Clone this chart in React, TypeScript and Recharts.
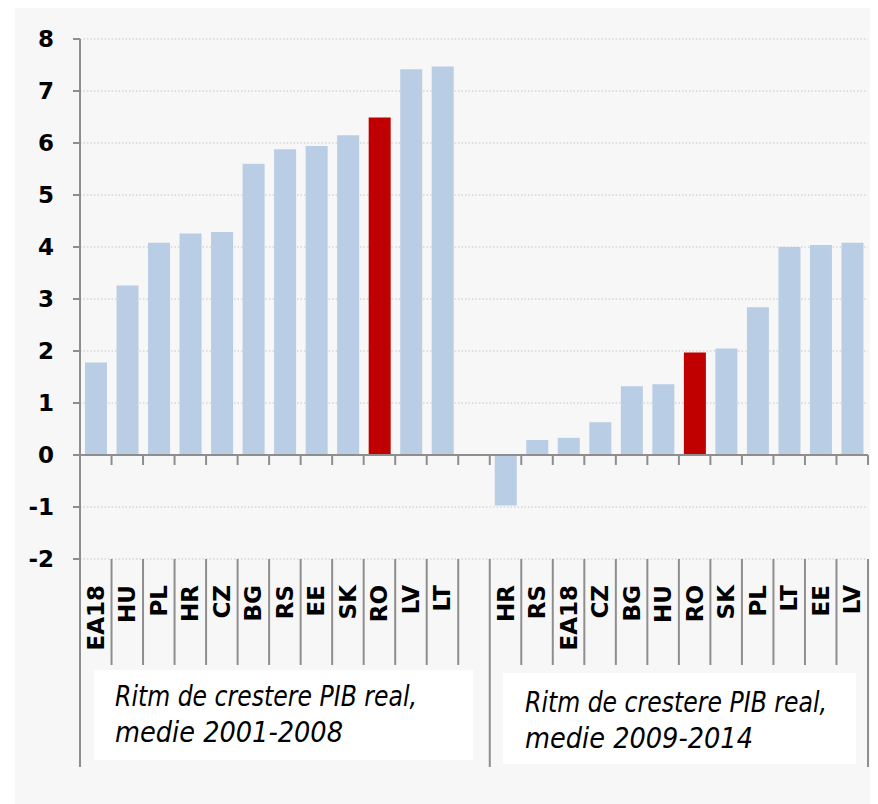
import React from "react";
import {
  Bar,
  BarChart,
  CartesianGrid,
  Cell,
  ReferenceLine,
  XAxis,
  YAxis,
} from "recharts";

// average real GDP growth, % per year
const countries2001 = ["EA18", "HU", "PL", "HR", "CZ", "BG", "RS", "EE", "SK", "RO", "LV", "LT"];
const growth2001 = [1.78, 3.26, 4.08, 4.26, 4.29, 5.6, 5.88, 5.94, 6.15, 6.49, 7.42, 7.47];

const countries2009 = ["HR", "RS", "EA18", "CZ", "BG", "HU", "RO", "SK", "PL", "LT", "EE", "LV"];
const growth2009 = [-0.97, 0.29, 0.33, 0.63, 1.32, 1.36, 1.97, 2.05, 2.84, 4.0, 4.04, 4.08];

const yTicks = [-2, -1, 0, 1, 2, 3, 4, 5, 6, 7, 8];

const periodNotes = [
  ["Ritm de crestere PIB real,", "medie 2001-2008"],
  ["Ritm de crestere PIB real,", "medie 2009-2014"],
];

const highlighted = "RO";

const BLUE = "#b9cde4";
const RED = "#c00000";
const AXIS = "#8e8e8e";
const LABEL_FONT = "'DejaVu Sans', Verdana, sans-serif";
const NOTE_FONT = "'Liberation Sans Narrow', 'DejaVu Sans Condensed', sans-serif";

const W = 863;
const H = 796;

type Row = { key: string; label: string; value: number | null };

// one empty slot keeps the two periods apart
const rows: Row[] = [
  ...countries2001.map((c, i) => ({ key: `a-${c}`, label: c, value: growth2001[i] })),
  { key: "gap", label: "", value: null },
  ...countries2009.map((c, i) => ({ key: `b-${c}`, label: c, value: growth2009[i] })),
];
const groupStarts = [0, countries2001.length + 1];

const CategoryTick = (props: any) => {
  const { x, y, payload, width, visibleTicksCount } = props;
  const idx = rows.findIndex((r) => r.key === payload.value);
  const row = rows[idx];
  const band =
    typeof width === "number" && visibleTicksCount ? width / visibleTicksCount : 788 / rows.length;
  const left = x - band / 2;
  const longLine = groupStarts.includes(idx);
  const last = idx === rows.length - 1;
  return (
    <g>
      <line x1={left} x2={left} y1={y} y2={y + (longLine ? 208 : 106)} stroke={AXIS} strokeWidth={2} />
      {last && (
        <line x1={left + band} x2={left + band} y1={y} y2={y + 208} stroke={AXIS} strokeWidth={2} />
      )}
      {row && row.label && (
        <text
          x={x}
          y={y + 26}
          transform={`rotate(-90 ${x} ${y + 26})`}
          textAnchor="end"
          dominantBaseline="central"
          fontFamily={LABEL_FONT}
          fontWeight="bold"
          fontSize={23}
          fill="#000"
        >
          {row.label}
        </text>
      )}
    </g>
  );
};

// solid zero line with tick marks at the category boundaries
const ZeroAxis = (props: any) => {
  const { x1, x2, y1 } = props;
  const step = (x2 - x1) / rows.length;
  return (
    <g>
      <line x1={x1} x2={x2} y1={y1} y2={y1} stroke={AXIS} strokeWidth={2} />
      {rows.map((r, i) => (
        <line
          key={r.key}
          x1={x1 + step * (i + 1)}
          x2={x1 + step * (i + 1)}
          y1={y1}
          y2={y1 + 10}
          stroke={AXIS}
          strokeWidth={2}
        />
      ))}
    </g>
  );
};

const noteBoxes = [
  { left: 79, top: 662, width: 379, height: 90, tx: 21, ty: 36 },
  { left: 488, top: 665, width: 353, height: 91, tx: 22, ty: 39 },
];

export default function App() {
  return (
    <div style={{ marginLeft: 7, width: W, height: H, background: "#f7f7f7", position: "relative" }}>
      <BarChart
        width={W}
        height={H}
        data={rows}
        margin={{ top: 31, right: 10, left: 0, bottom: 0 }}
      >
        <CartesianGrid vertical={false} stroke="#c6c6c6" strokeDasharray="1.5 2" />
        <XAxis
          dataKey="key"
          interval={0}
          height={245}
          axisLine={false}
          tickLine={false}
          tickSize={0}
          tickMargin={0}
          tick={<CategoryTick />}
        />
        <YAxis
          domain={[-2, 8]}
          ticks={yTicks}
          interval={0}
          width={65}
          tickSize={7}
          tickMargin={19}
          axisLine={{ stroke: AXIS, strokeWidth: 2 }}
          tickLine={{ stroke: AXIS, strokeWidth: 2 }}
          tick={{ fontFamily: LABEL_FONT, fontWeight: "bold", fontSize: 23, fill: "#000" }}
        />
        <Bar dataKey="value" barSize={22} isAnimationActive={false}>
          {rows.map((r) => (
            <Cell key={r.key} fill={r.label === highlighted ? RED : BLUE} />
          ))}
        </Bar>
        <ReferenceLine y={0} shape={<ZeroAxis />} />
      </BarChart>
      <svg
        width={W}
        height={H}
        style={{ position: "absolute", left: 0, top: 0, pointerEvents: "none" }}
      >
        {noteBoxes.map((b, i) => (
          <g key={i}>
            <rect x={b.left} y={b.top} width={b.width} height={b.height} fill="#fff" />
            <text
              fontFamily={NOTE_FONT}
              fontStyle="italic"
              fontSize={29}
              fill="#000"
            >
              <tspan x={b.left + b.tx} y={b.top + b.ty} textLength={302} lengthAdjust="spacingAndGlyphs">
                {periodNotes[i][0]}
              </tspan>
              <tspan x={b.left + b.tx} y={b.top + b.ty + 36} textLength={228} lengthAdjust="spacingAndGlyphs">
                {periodNotes[i][1]}
              </tspan>
            </text>
          </g>
        ))}
      </svg>
    </div>
  );
}
